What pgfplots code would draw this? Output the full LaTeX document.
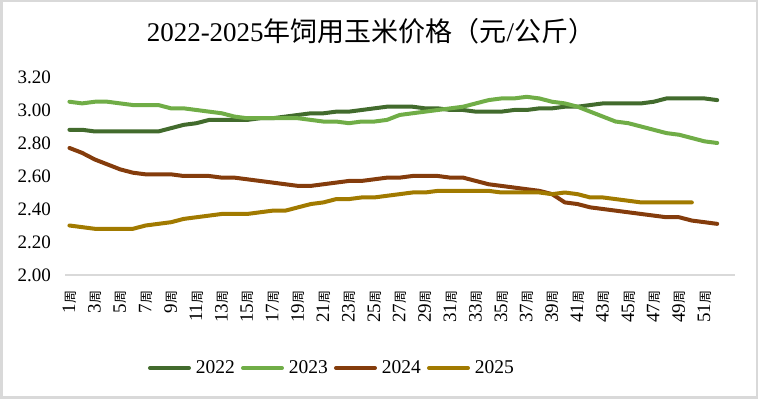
\documentclass[border=0pt]{standalone}
\usepackage{fontspec}
\setmainfont{Liberation Serif}
\newfontfamily\cjk{Noto Sans CJK SC}
\usepackage{pgfplots}
\usepackage{pgfplotstable}
\pgfplotsset{compat=1.18}
\definecolor{c22}{HTML}{426B2D}
\definecolor{c23}{HTML}{70AD47}
\definecolor{c24}{HTML}{843C0C}
\definecolor{c25}{HTML}{A17A00}
\definecolor{bordergray}{HTML}{D9D9D9}
\pgfplotstableread{
w a b c d
1 2.88 3.05 2.77 2.30
2 2.88 3.04 2.74 2.29
3 2.87 3.05 2.70 2.28
4 2.87 3.05 2.67 2.28
5 2.87 3.04 2.64 2.28
6 2.87 3.03 2.62 2.28
7 2.87 3.03 2.61 2.30
8 2.87 3.03 2.61 2.31
9 2.89 3.01 2.61 2.32
10 2.91 3.01 2.60 2.34
11 2.92 3.00 2.60 2.35
12 2.94 2.99 2.60 2.36
13 2.94 2.98 2.59 2.37
14 2.94 2.96 2.59 2.37
15 2.94 2.95 2.58 2.37
16 2.95 2.95 2.57 2.38
17 2.95 2.95 2.56 2.39
18 2.96 2.95 2.55 2.39
19 2.97 2.95 2.54 2.41
20 2.98 2.94 2.54 2.43
21 2.98 2.93 2.55 2.44
22 2.99 2.93 2.56 2.46
23 2.99 2.92 2.57 2.46
24 3.00 2.93 2.57 2.47
25 3.01 2.93 2.58 2.47
26 3.02 2.94 2.59 2.48
27 3.02 2.97 2.59 2.49
28 3.02 2.98 2.60 2.50
29 3.01 2.99 2.60 2.50
30 3.01 3.00 2.60 2.51
31 3.00 3.01 2.59 2.51
32 3.00 3.02 2.59 2.51
33 2.99 3.04 2.57 2.51
34 2.99 3.06 2.55 2.51
35 2.99 3.07 2.54 2.50
36 3.00 3.07 2.53 2.50
37 3.00 3.08 2.52 2.50
38 3.01 3.07 2.51 2.50
39 3.01 3.05 2.49 2.49
40 3.02 3.04 2.44 2.50
41 3.02 3.02 2.43 2.49
42 3.03 2.99 2.41 2.47
43 3.04 2.96 2.40 2.47
44 3.04 2.93 2.39 2.46
45 3.04 2.92 2.38 2.45
46 3.04 2.90 2.37 2.44
47 3.05 2.88 2.36 2.44
48 3.07 2.86 2.35 2.44
49 3.07 2.85 2.35 2.44
50 3.07 2.83 2.33 2.44
51 3.07 2.81 2.32 nan
52 3.06 2.80 2.31 nan
}\pricedata
\begin{document}
\begin{tikzpicture}[x=1pt,y=1pt]
\useasboundingbox (0,0) rectangle (758,399);
\draw[color=bordergray, line width=2.5pt] (1.25,1.25) rectangle (756.75,397.75);
\node[anchor=base, inner sep=0pt, font=\fontsize{27}{27}\selectfont] at (371,357.3)
  {2022-2025{\cjk 年饲用玉米价格（元}/{\cjk 公斤）}};
\begin{axis}[
  at={(65pt,124pt)}, anchor=south west,
  scale only axis, width=670pt, height=198pt,
  xmin=0.65, xmax=53.4, ymin=2, ymax=3.2,
  clip=false,
  axis x line=bottom, axis y line=left,
  x axis line style={draw=bordergray, line width=1.5pt, -},
  y axis line style={draw=none},
  major tick length=0pt,
  tick style={draw=none},
  ytick={2,2.2,2.4,2.6,2.8,3.0,3.2},
  xtick={1,3,...,51},
  /pgf/number format/fixed,
  /pgf/number format/fixed zerofill,
  /pgf/number format/precision=2,
  /pgf/number format/assume math mode=true,
  ticklabel style={font=\fontsize{19}{19}\selectfont, inner sep=0pt},
  yticklabel style={anchor=east},
  yticklabel shift=14pt,
  xticklabel={\pgfmathtruncatemacro\wk{\tick}\wk{\cjk\fontsize{13}{13}\selectfont 周}},
  xticklabel style={rotate=90, anchor=east},
  xticklabel shift=15.5pt,
  legend columns=4,
  legend style={draw=none, fill=none, at={(0.397,-0.4697)}, anchor=center,
    inner sep=0pt, font=\fontsize{19.5}{19.5}\selectfont,
    nodes={inner sep=0pt},
    /tikz/every even column/.append style={column sep=6pt},
    /tikz/every odd column/.append style={column sep=5pt}},
  legend image code/.code={\draw[#1, line width=4pt, line cap=round] (2pt,0pt) -- (41pt,0pt);},
  every axis plot/.append style={line width=4pt, line join=round, line cap=round, mark=none},
]
\addplot[color=c22] table[x=w, y=a] {\pricedata};
\addlegendentry{2022}
\addplot[color=c23] table[x=w, y=b] {\pricedata};
\addlegendentry{2023}
\addplot[color=c24] table[x=w, y=c] {\pricedata};
\addlegendentry{2024}
\addplot[color=c25] table[x=w, y=d] {\pricedata};
\addlegendentry{2025}
\end{axis}
\end{tikzpicture}
\end{document}
